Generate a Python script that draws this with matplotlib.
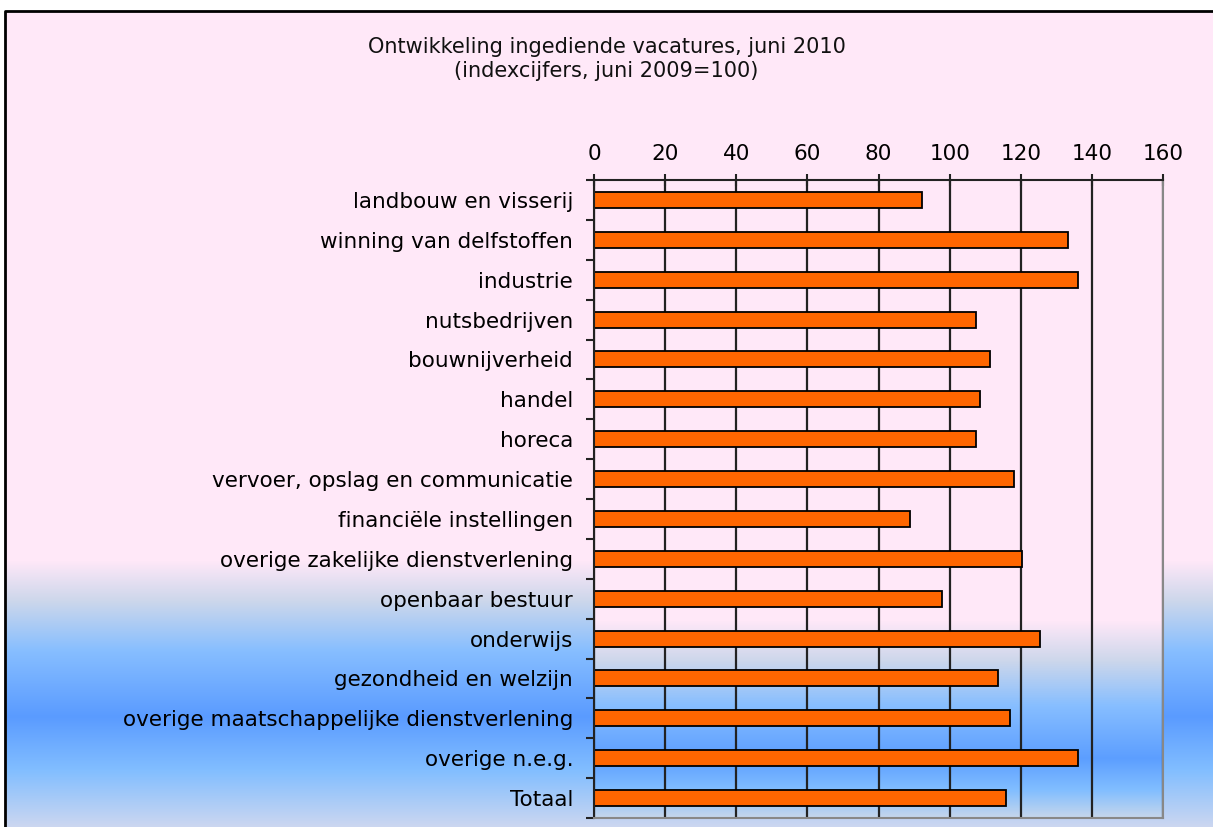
import numpy as np
import matplotlib.pyplot as plt
from matplotlib.patches import Rectangle

# Data
sectors = [
    "landbouw en visserij",
    "winning van delfstoffen",
    "industrie",
    "nutsbedrijven",
    "bouwnijverheid",
    "handel",
    "horeca",
    "vervoer, opslag en communicatie",
    "financiële instellingen",
    "overige zakelijke dienstverlening",
    "openbaar bestuur",
    "onderwijs",
    "gezondheid en welzijn",
    "overige maatschappelijke dienstverlening",
    "overige n.e.g.",
    "Totaal",
]
index_values = [92.2, 133.3, 136.1, 107.4, 111.4, 108.5, 107.4, 118.1,
                88.9, 120.4, 97.9, 125.4, 113.6, 117.0, 136.1, 115.9]
x_ticks = [0, 20, 40, 60, 80, 100, 120, 140, 160]

title = "Ontwikkeling ingediende vacatures, juni 2010\n(indexcijfers, juni 2009=100)"

W, H = 1213, 827
pink = (255, 232, 248)


def gradient(n_rows, stops):
    # vertical colour ramp, stops given as (row, rgb)
    pos = np.array([s[0] for s in stops], dtype=float)
    cols = np.array([s[1] for s in stops], dtype=float) / 255.0
    rows = np.arange(n_rows)
    img = np.zeros((n_rows, 1, 3))
    for c in range(3):
        img[:, 0, c] = np.interp(rows, pos, cols[:, c])
    return img


fig = plt.figure(figsize=(W / 100, H / 100), dpi=100)
fig.patch.set_facecolor("white")

# background of the chart area with blue band near the bottom
bg = fig.add_axes([0, 0, 1, 1])
bg_img = gradient(H, [(0, pink), (560, pink), (600, (205, 215, 235)),
                      (650, (135, 190, 255)), (716, (90, 155, 255)),
                      (770, (130, 190, 255)), (827, (205, 215, 240))])
bg.imshow(bg_img, aspect="auto", extent=[0, W, H, 0])
bg.set_xlim(0, W)
bg.set_ylim(H, 0)
bg.axis("off")
bg.add_patch(Rectangle((0, 0), W, 10, color="white", zorder=3))
bg.add_patch(Rectangle((0, 0), 5, H, color="white", zorder=3))
bg.plot([5, 5, W], [H, 10.5, 10.5], color="black", lw=2, zorder=4)

fig.text(0.5, 1 - 59 / H, title, ha="center", va="center",
         fontsize=15, linespacing=1.2, color="#111111")

ax_left, ax_right = 594 / W, 1163 / W
ax_top, ax_bottom = 1 - 180 / H, 1 - 818 / H
rect = [ax_left, ax_bottom, ax_right - ax_left, ax_top - ax_bottom]

# plot area gradient
pa = fig.add_axes(rect)
pa_img = gradient(638, [(0, pink), (440, pink), (480, (205, 215, 235)),
                        (525, (135, 190, 255)), (578, (92, 158, 255)),
                        (610, (130, 190, 255)), (638, (200, 215, 235))])
pa.imshow(pa_img, aspect="auto", extent=[0, 1, 1, 0])
pa.axis("off")

ax = fig.add_axes(rect)
ax.patch.set_alpha(0)
y = np.arange(len(sectors))
ax.barh(y, index_values, height=0.4, color="#FF6600", edgecolor="black",
        linewidth=1.3, zorder=3)

ax.set_xlim(0, 160)
ax.set_ylim(len(sectors) - 0.5, -0.5)
ax.xaxis.tick_top()
ax.set_xticks(x_ticks)
ax.tick_params(axis="x", direction="inout", length=9, width=1.5,
               labelsize=15.5, pad=7, colors="#222222", labelcolor="black")
ax.xaxis.grid(True, color="#222222", lw=1.6, zorder=1)

ax.set_yticks(y)
ax.set_yticklabels(sectors)
ax.set_yticks(np.arange(-0.5, len(sectors)), minor=True)
ax.tick_params(axis="y", which="major", length=0, labelsize=15.5, pad=15)
ax.tick_params(axis="y", which="minor", length=6, width=1.5, color="#222222")

for side in ["top", "left"]:
    ax.spines[side].set_color("#222222")
    ax.spines[side].set_linewidth(1.5)
for side in ["right", "bottom"]:
    ax.spines[side].set_color("#888888")
    ax.spines[side].set_linewidth(1.5)
for s in ax.spines.values():
    s.set_zorder(4)

plt.savefig("out.png", dpi=100, facecolor=fig.get_facecolor())
